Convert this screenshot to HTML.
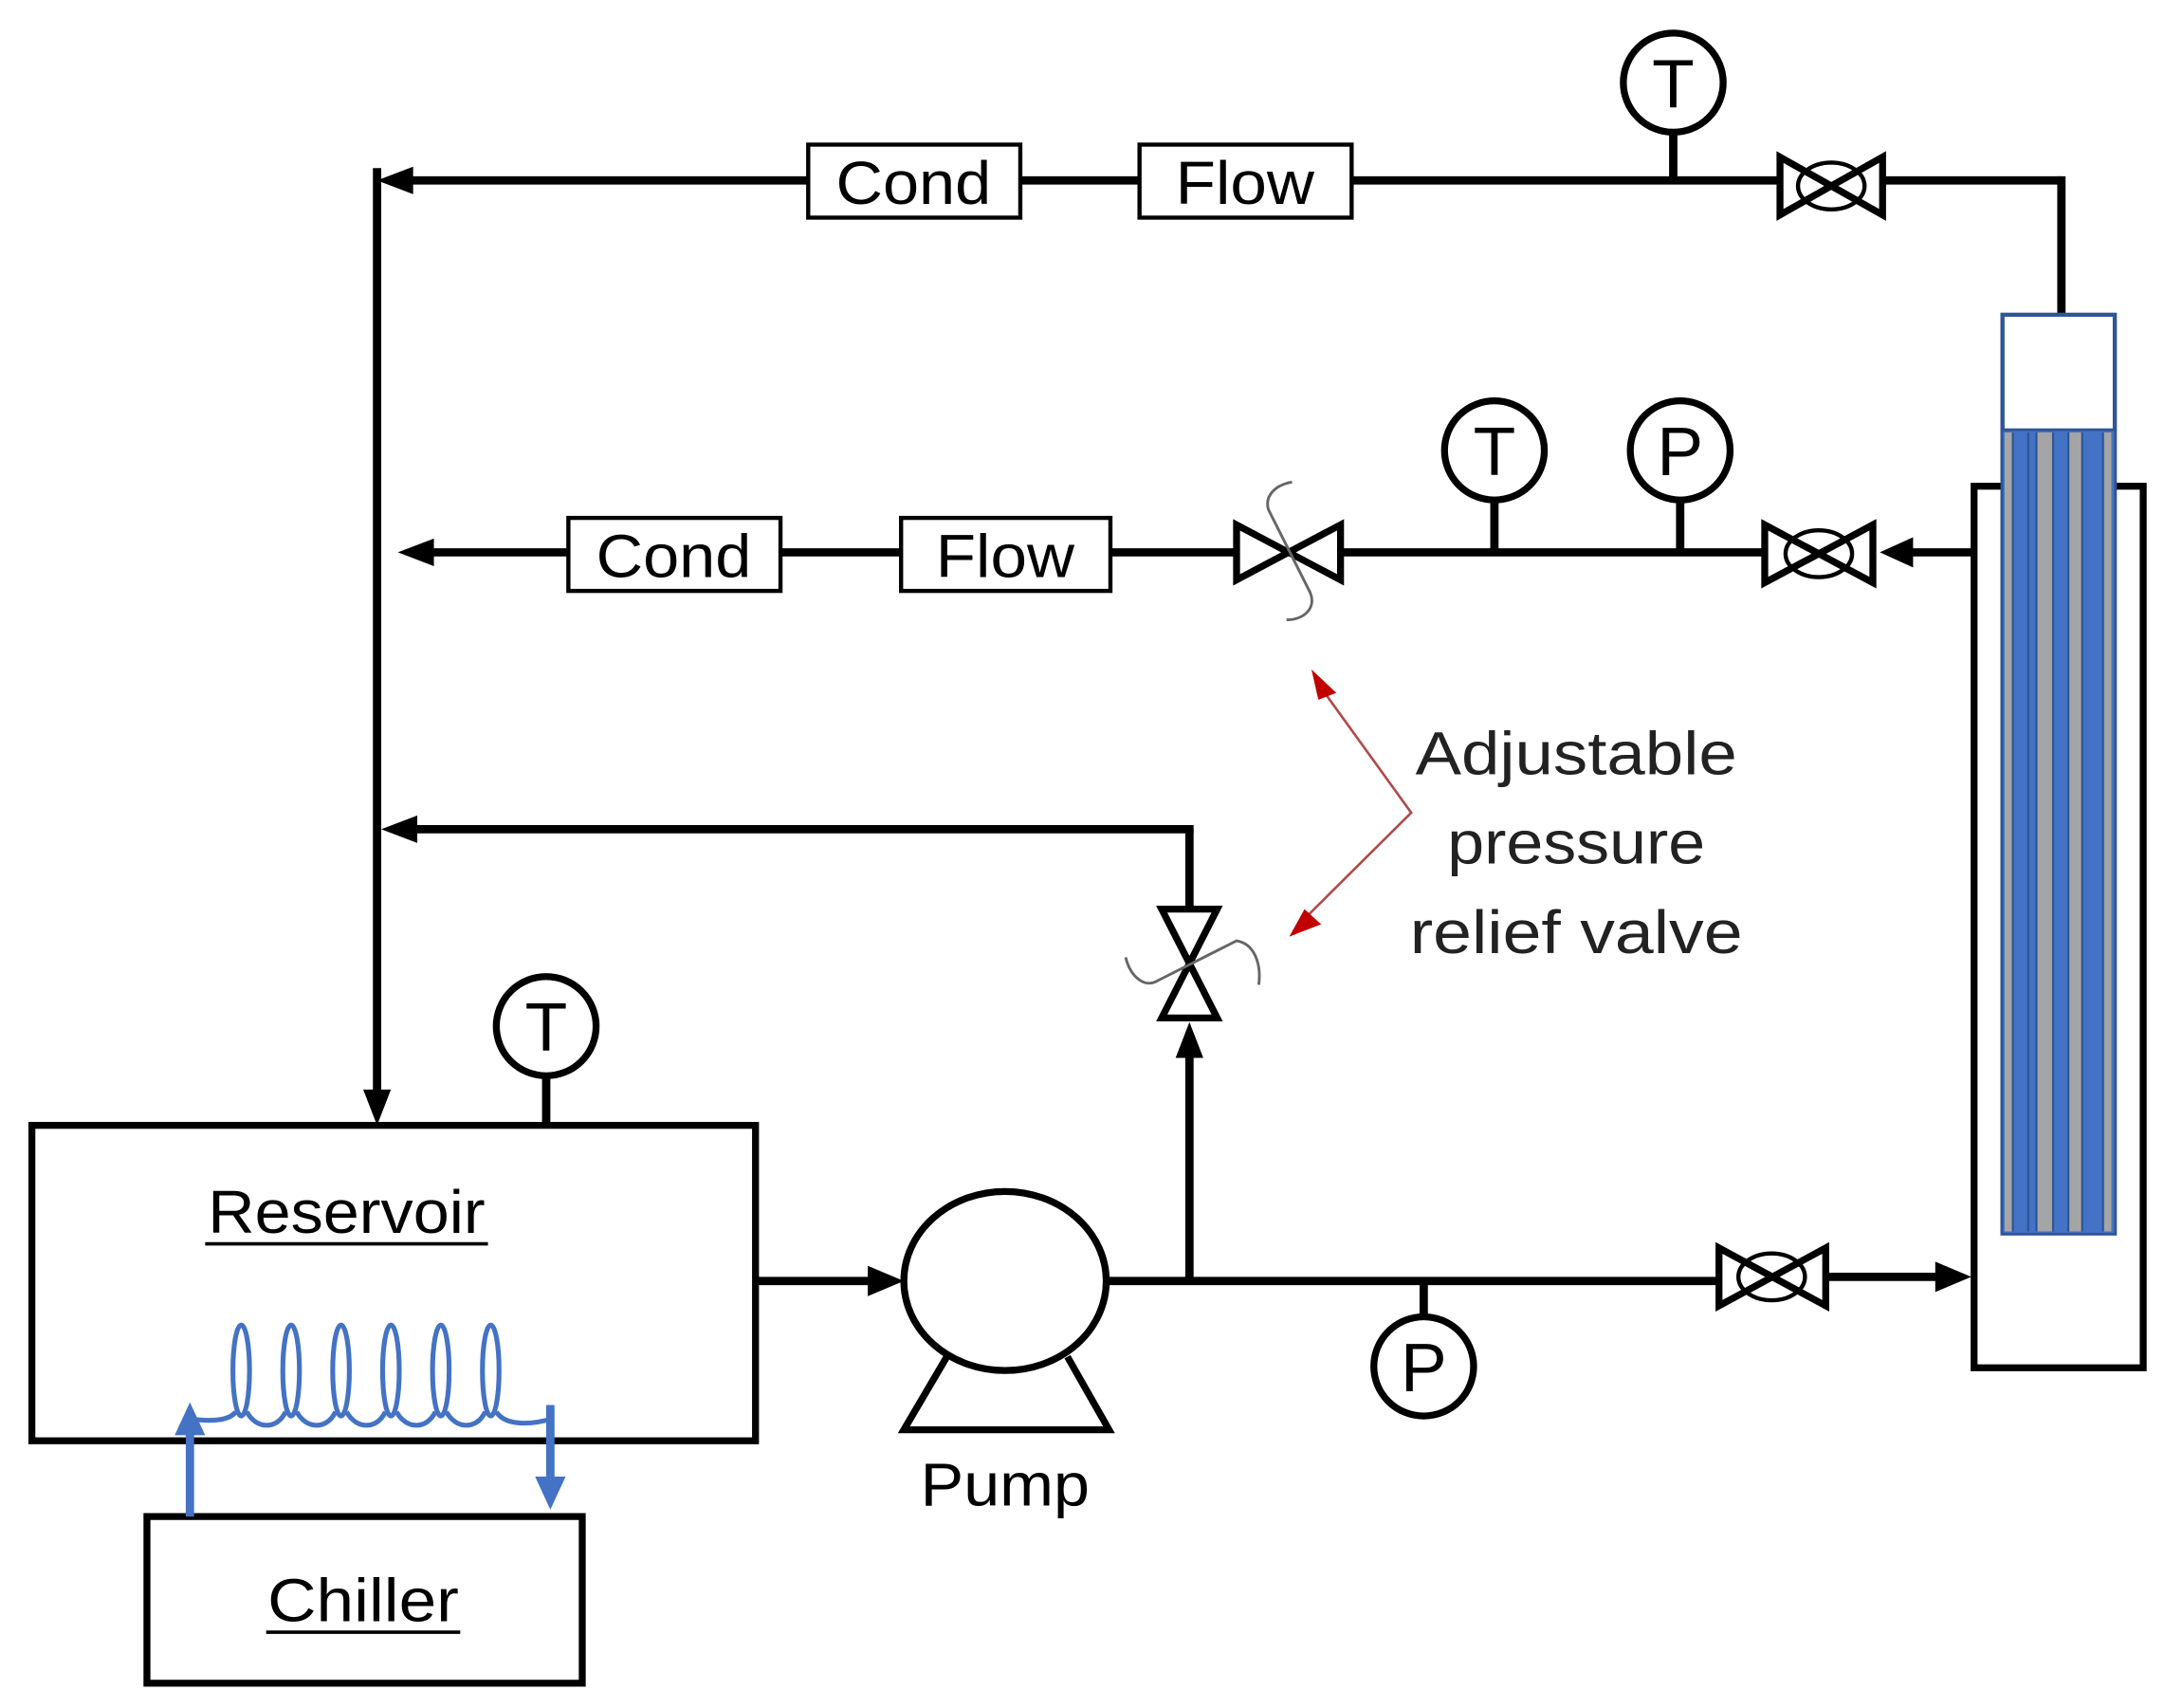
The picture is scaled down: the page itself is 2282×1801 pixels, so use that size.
<!DOCTYPE html>
<html><head><meta charset="utf-8"><style>html,body{margin:0;padding:0;background:#fff}svg{display:block}</style></head>
<body>
<svg width="2282" height="1801" viewBox="0 0 1561 1240" preserveAspectRatio="none" xmlns="http://www.w3.org/2000/svg" font-family="'Liberation Sans', sans-serif">
<g stroke="#000" stroke-width="6" fill="none">
<line x1="1487" y1="131" x2="1360" y2="131"/>
<line x1="1487" y1="128" x2="1487" y2="228"/>
<line x1="1282" y1="131" x2="975" y2="131"/>
<line x1="822" y1="131" x2="736" y2="131"/>
<line x1="583" y1="131" x2="290" y2="131"/>
<line x1="272" y1="122" x2="272" y2="795"/>
<line x1="1422" y1="401" x2="1375" y2="401"/>
<line x1="1272" y1="401" x2="968" y2="401"/>
<line x1="890" y1="401" x2="801" y2="401"/>
<line x1="650" y1="401" x2="563" y2="401"/>
<line x1="410" y1="401" x2="305" y2="401"/>
<line x1="858" y1="660" x2="858" y2="602"/>
<line x1="861" y1="602" x2="292" y2="602"/>
<line x1="858" y1="930" x2="858" y2="765"/>
<line x1="545" y1="930" x2="630" y2="930"/>
<line x1="798" y1="930" x2="1238" y2="930"/>
<line x1="1318" y1="927" x2="1400" y2="927"/>
<line x1="1027" y1="930" x2="1027" y2="955"/>
<line x1="1207" y1="96" x2="1207" y2="131"/>
<line x1="1078" y1="363" x2="1078" y2="401"/>
<line x1="1212" y1="363" x2="1212" y2="401"/>
<line x1="394" y1="781" x2="394" y2="817"/>
</g>
<g fill="#000">
<polygon points="272,131 298,121 298,141"/>
<polygon points="287,401 313,391 313,411"/>
<polygon points="275,602 301,592 301,612"/>
<polygon points="272,817 262,791 282,791"/>
<polygon points="652,930 626,919 626,941"/>
<polygon points="858,742 848,768 868,768"/>
<polygon points="1422,927 1396,916 1396,938"/>
<polygon points="1356,401 1380,390 1380,412"/>
</g>
<g stroke="#000" stroke-width="3" fill="#fff">
<rect x="583" y="105" width="153" height="53"/>
<rect x="822" y="105" width="153" height="53"/>
<rect x="410" y="376" width="153" height="53"/>
<rect x="650" y="376" width="151" height="53"/>
</g>
<g font-size="44" text-anchor="middle" fill="#000">
<text x="659" y="148" textLength="112" lengthAdjust="spacingAndGlyphs">Cond</text>
<text x="898" y="148" textLength="100" lengthAdjust="spacingAndGlyphs">Flow</text>
<text x="486" y="419" textLength="112" lengthAdjust="spacingAndGlyphs">Cond</text>
<text x="725" y="419" textLength="100" lengthAdjust="spacingAndGlyphs">Flow</text>
</g>
<g stroke="#000" stroke-width="5" fill="#fff">
<circle cx="1207" cy="60" r="36"/>
<circle cx="1078" cy="327" r="36"/>
<circle cx="1212" cy="327" r="36"/>
<circle cx="394" cy="745" r="36"/>
<circle cx="1027" cy="992" r="36"/>
</g>
<g font-size="50" text-anchor="middle" fill="#000">
<text x="1207" y="78">T</text>
<text x="1078" y="345">T</text>
<text x="1212" y="345">P</text>
<text x="394" y="763">T</text>
<text x="1027" y="1010">P</text>
</g>
<g stroke="#000" stroke-width="5" fill="#fff" stroke-linejoin="miter">
<path d="M1284,114 L1284,156 L1358,114 L1358,156 Z"/>
<ellipse cx="1321" cy="135" rx="24" ry="17" stroke-width="3" fill="none"/>
<path d="M1273,381 L1273,423 L1351,381 L1351,423 Z"/>
<ellipse cx="1312" cy="402" rx="24" ry="17" stroke-width="3" fill="none"/>
<path d="M1240,906 L1240,948 L1317,906 L1317,948 Z"/>
<ellipse cx="1278" cy="927" rx="24" ry="17" stroke-width="3" fill="none"/>
<path d="M892,381 L892,421 L967,381 L967,421 Z"/>
<path d="M838,660 L878,660 L838,739 L878,739 Z"/>
</g>
<g stroke="#666" stroke-width="2" fill="none">
<path d="M932,350 C920,352 912,360 915,370 L945,430 C950,442 940,450 928,450"/>
<path d="M908,715 C910,700 905,685 892,683 L835,712 C825,718 815,708 812,695"/>
</g>
<g stroke="#000" stroke-width="5" fill="none">
<rect x="23" y="817" width="522" height="229"/>
<rect x="106" y="1101" width="314" height="121"/>
</g>
<g font-size="44" text-anchor="middle" fill="#000">
<text x="250" y="895" textLength="200" lengthAdjust="spacingAndGlyphs">Reservoir</text>
<text x="262" y="1177" textLength="138" lengthAdjust="spacingAndGlyphs">Chiller</text>
<text x="725" y="1093" textLength="122" lengthAdjust="spacingAndGlyphs">Pump</text>
</g>
<line x1="148" y1="903" x2="352" y2="903" stroke="#000" stroke-width="2.5"/>
<line x1="192" y1="1185" x2="332" y2="1185" stroke="#000" stroke-width="2.5"/>
<g stroke="#4472c4" stroke-width="3.5" fill="none">
<ellipse cx="174" cy="995" rx="6" ry="33"/>
<ellipse cx="210" cy="995" rx="6" ry="33"/>
<ellipse cx="246" cy="995" rx="6" ry="33"/>
<ellipse cx="282" cy="995" rx="6" ry="33"/>
<ellipse cx="318" cy="995" rx="6" ry="33"/>
<ellipse cx="354" cy="995" rx="6" ry="33"/>
<path d="M137,1030 C150,1032 165,1032 170,1025"/>
<path d="M178,1025 C185,1038 200,1038 206,1025"/>
<path d="M214,1025 C221,1038 236,1038 242,1025"/>
<path d="M250,1025 C257,1038 272,1038 278,1025"/>
<path d="M286,1025 C293,1038 308,1038 314,1025"/>
<path d="M322,1025 C329,1038 344,1038 350,1025"/>
<path d="M358,1025 C365,1036 385,1034 398,1030"/>
</g>
<g stroke="#4472c4" stroke-width="6" fill="none">
<line x1="137" y1="1101" x2="137" y2="1035"/>
<line x1="397" y1="1020" x2="397" y2="1075"/>
</g>
<g fill="#4472c4">
<polygon points="137,1018 126,1042 148,1042"/>
<polygon points="397,1096 386,1072 408,1072"/>
</g>
<g stroke="#000" stroke-width="5" fill="#fff">
<path d="M683,985 L652,1038 L800,1038 L770,985"/>
<ellipse cx="725" cy="930" rx="73" ry="65"/>
</g>
<rect x="1424" y="353" width="122" height="640" stroke="#000" stroke-width="5" fill="#fff"/>
<rect x="1444" y="228" width="82" height="668" fill="#4472c4" stroke="#2f5597" stroke-width="2"/>
<rect x="1445" y="229" width="80" height="83" fill="#fff" stroke="#2f5597" stroke-width="2"/>
<g fill="#a5a5a5">
<rect x="1446" y="314" width="6" height="580"/>
<rect x="1469" y="314" width="12" height="580"/>
<rect x="1492" y="314" width="10" height="580"/>
<rect x="1517" y="314" width="6" height="580"/>
</g>
<g stroke="#2f5597" stroke-width="1.5">
<line x1="1452" y1="314" x2="1452" y2="894"/><line x1="1463" y1="314" x2="1463" y2="894"/>
<line x1="1469" y1="314" x2="1469" y2="894"/><line x1="1481" y1="314" x2="1481" y2="894"/>
<line x1="1492" y1="314" x2="1492" y2="894"/><line x1="1502" y1="314" x2="1502" y2="894"/>
<line x1="1517" y1="314" x2="1517" y2="894"/>
</g>
<g stroke="#b04a4a" stroke-width="1.8" fill="none">
<polyline points="952,498 1018,590 940,668"/>
</g>
<g fill="#c00000">
<polygon points="946,486 964,503 951,508"/>
<polygon points="930,680 941,660 953,671"/>
</g>
<g font-size="44" text-anchor="middle" fill="#222">
<text x="1137" y="562" textLength="232" lengthAdjust="spacingAndGlyphs">Adjustable</text>
<text x="1137" y="627" textLength="186" lengthAdjust="spacingAndGlyphs">pressure</text>
<text x="1137" y="692" textLength="240" lengthAdjust="spacingAndGlyphs">relief valve</text>
</g>
</svg>
</body></html>
